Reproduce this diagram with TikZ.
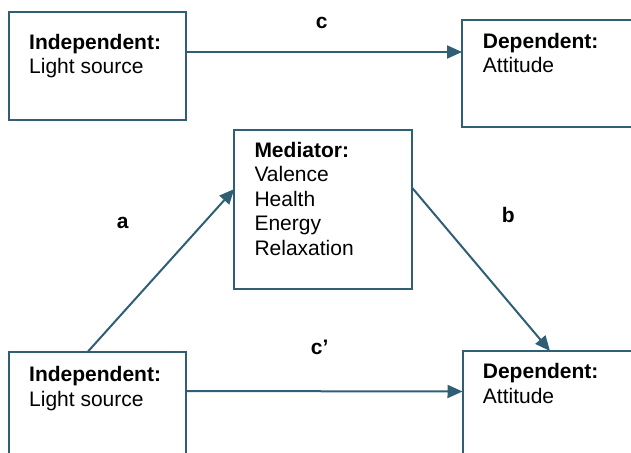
\documentclass[tikz,border=0pt]{standalone}
\usepackage{fontspec}
\setmainfont{Liberation Sans}
\usetikzlibrary{arrows.meta,calc}
\definecolor{linkblue}{RGB}{47,94,117}
\tikzset{
  framebox/.style={draw=linkblue, line width=2pt, rectangle, inner sep=0pt, outer sep=0pt, anchor=north west},
  boxtext/.style={anchor=base west, inner sep=0pt, font=\fontsize{21}{24.5}\selectfont},
  pathlabel/.style={anchor=base west, inner sep=0pt, font=\fontsize{21}{24.5}\selectfont\bfseries},
  link/.style={draw=linkblue, line width=2pt, -{Triangle[length=15pt,width=13pt]}},
}
% bold heading followed by the variable's levels, one per line
\newcommand{\varlines}[2]{\parbox[t]{6cm}{\raggedright\textbf{#1}\\#2}}

\begin{document}
\begin{tikzpicture}[x=1pt,y=-1pt]
\useasboundingbox (0,0) rectangle (631,452);
\clip (0,0) rectangle (631,452);

% total effect
\node[framebox, minimum width=177pt, minimum height=107.5pt] (il) at (9,12) {};
\node[framebox, minimum width=200pt, minimum height=107pt] (ir) at (462,20) {};
\node[boxtext] (il-text) at (29,49.5) {\varlines{Independent:}{Light source}};
\node[boxtext] (ir-text) at (482.7,48.5) {\varlines{Dependent:}{Attitude}};

% mediated model
\node[framebox, minimum width=178pt, minimum height=159pt] (med) at (234.3,130) {};
\node[boxtext] (med-text) at (254.3,157) {\varlines{Mediator:}{Valence\\Health\\Energy\\Relaxation}};
\node[framebox, minimum width=177.2pt, minimum height=120pt] (bl) at (8.5,351.5) {};
\node[framebox, minimum width=200pt, minimum height=120pt] (br) at (462.5,351) {};
\node[boxtext] (bl-text) at (29,381.5) {\varlines{Independent:}{Light source}};
\node[boxtext] (br-text) at (482.7,378.5) {\varlines{Dependent:}{Attitude}};

% paths
\draw[link] ($(il.north east)+(0,40)$) -- ($(ir.north west)+(0,32)$);
\draw[link] ($(bl.north west)+(79.5,0)$) -- ($(med.north west)+(0,59)$);
\draw[link] ($(med.north east)+(0,58)$) -- ($(br.north west)+(87.5,0)$);
\draw[link] ($(bl.north east)+(0,39.5)$) -- ($(br.north west)+(0,40.5)$);

% path labels
\node[pathlabel] (lab-c) at (315.7,29) {c};
\node[pathlabel] (lab-cp) at (310.7,354.7) {c’};
\node[pathlabel] (lab-a) at (116.7,228.3) {a};
\node[pathlabel] (lab-b) at (501.7,222.3) {b};
\end{tikzpicture}
\end{document}
